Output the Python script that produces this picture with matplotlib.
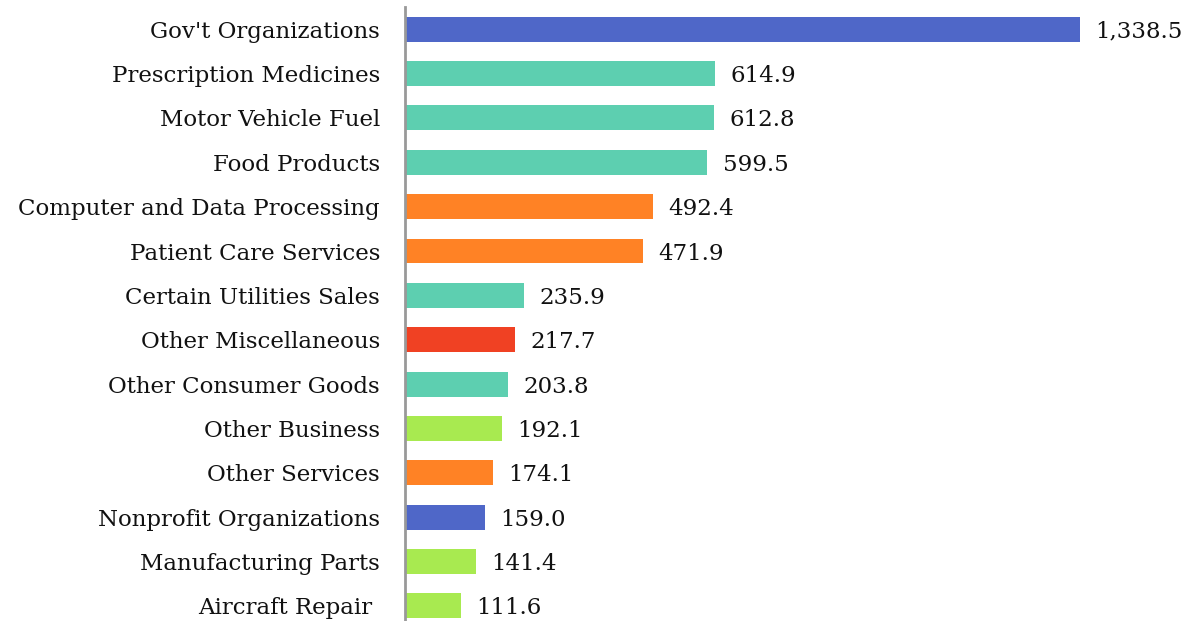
import matplotlib
matplotlib.use("Agg")
import matplotlib.pyplot as plt

categories = [
    "Gov't Organizations", "Prescription Medicines", "Motor Vehicle Fuel",
    "Food Products", "Computer and Data Processing", "Patient Care Services",
    "Certain Utilities Sales", "Other Miscellaneous", "Other Consumer Goods",
    "Other Business", "Other Services", "Nonprofit Organizations",
    "Manufacturing Parts", "Aircraft Repair ",
]
values = [1338.5, 614.9, 612.8, 599.5, 492.4, 471.9, 235.9,
          217.7, 203.8, 192.1, 174.1, 159.0, 141.4, 111.6]
groups = ["gov", "consumer", "consumer", "consumer", "service", "service",
          "consumer", "misc", "consumer", "business", "service", "gov",
          "business", "business"]

PALETTE = {
    "gov": "#4F67C8",
    "consumer": "#5DCFB0",
    "service": "#FF8225",
    "misc": "#F04123",
    "business": "#A8EA50",
}

plt.rcParams["font.family"] = ["DejaVu Serif"]
FS = 16.5

fig = plt.figure(figsize=(11.82, 6.21), dpi=100)
ax = fig.add_axes([405 / 1182, 0.0, 777 / 1182, 614 / 621])

ypos = list(range(len(categories)))
colors = [PALETTE[g] for g in groups]
ax.barh(ypos, values, height=0.56, color=colors, zorder=2)

for y, v in zip(ypos, values):
    ax.text(v + 30, y, f"{v:,.1f}", va="center_baseline", ha="left",
            fontsize=FS, color="#111111")

ax.set_xlim(0, 1540)
ax.set_ylim(13.34, -0.5)
ax.set_yticks(ypos)
ax.set_yticklabels(categories, fontsize=FS, color="#111111", va="center_baseline")
ax.tick_params(axis="y", length=0, pad=18)
ax.set_xticks([])

for side in ["top", "right", "bottom"]:
    ax.spines[side].set_visible(False)
ax.spines["left"].set_color("#999999")
ax.spines["left"].set_linewidth(2)

fig.savefig("out.png", dpi=100, facecolor="white")
